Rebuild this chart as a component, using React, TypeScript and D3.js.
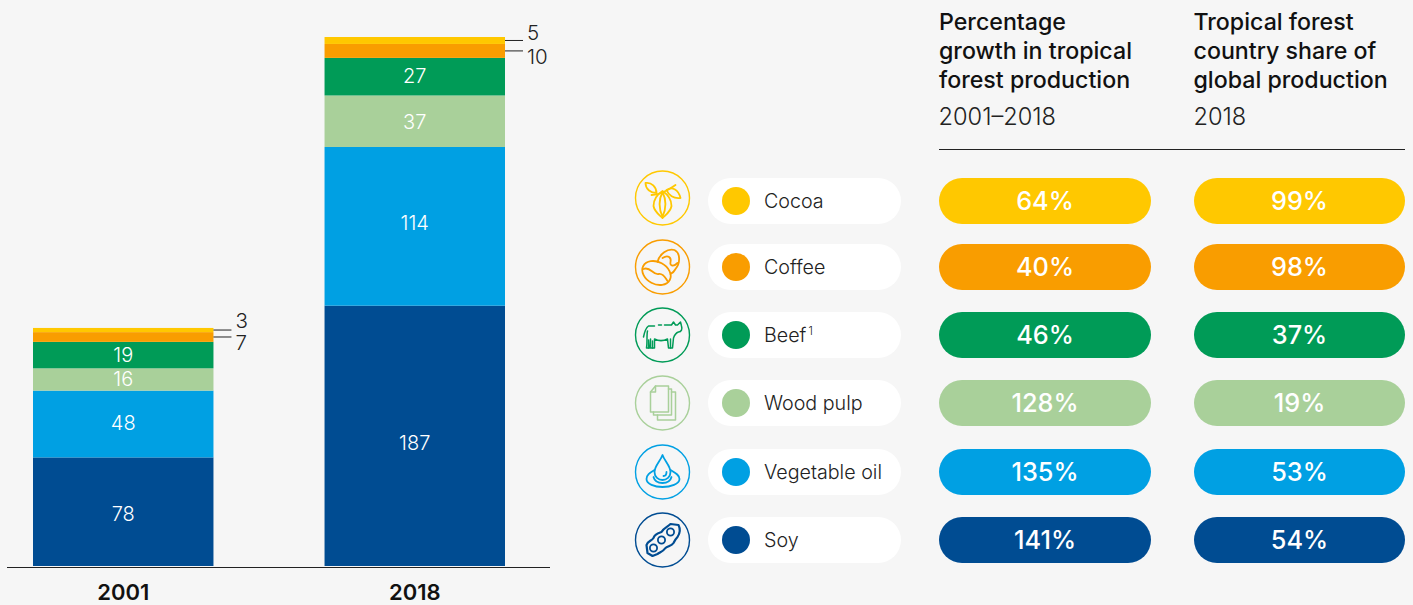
import React from "react";
import * as d3 from "d3";

const years = ["2001", "2018"];
const categories = ["Soy", "Vegetable oil", "Wood pulp", "Beef", "Coffee", "Cocoa"];
const values2001 = [78, 48, 16, 19, 7, 3];
const values2018 = [187, 114, 37, 27, 10, 5];
const colors = ["#004c92", "#00a0e3", "#a9d09a", "#009b57", "#f99d00", "#ffc800"];
const growth = ["141%", "135%", "128%", "46%", "40%", "64%"];
const share = ["54%", "53%", "19%", "37%", "98%", "99%"];
const rowCenters = [540, 472, 403, 335, 267, 201];
const iconCenters = [540, 472, 403, 335, 267, 198];
const labelShift2001 = [2, -1, 0, 0];
const labelShift2018 = [7, -3, 1, -1];

const FONT = "Inter, 'Liberation Sans', Arial, sans-serif";
const INK = "#222";

const y = d3.scaleLinear().domain([0, 380]).range([566, 37]);
const x = d3.scaleBand().domain(years).range([33, 505]).paddingInner(0.381).paddingOuter(0);

const rows = years.map((yr, i) => {
  const o: any = { year: yr };
  const v = i === 0 ? values2001 : values2018;
  categories.forEach((c, k) => (o[c] = v[k]));
  return o;
});
const stacked = d3.stack().keys(categories)(rows);

function Icon({ name, color }: { name: string; color: string }) {
  const p = { fill: "none", stroke: color, strokeWidth: 1.8, strokeLinejoin: "round" as const, strokeLinecap: "round" as const };
  switch (name) {
    case "Cocoa":
      return (
        <g {...p}>
          <path d="M-11,-3 C-4,-3 6,-8 13,-13" />
          <path d="M-6,-5 C-12,-5 -17,-9 -17,-15 C-11,-16 -6,-11 -6,-5Z" />
          <path d="M4,-8 C10,-12 16,-8 18,0 C11,1 6,-3 4,-8Z" />
          <path d="M0,-7 C-6,-3 -9,2 -9,8 C-8,14 -3,17 0,20 C3,17 8,14 9,8 C9,2 6,-3 0,-7Z" />
          <path d="M0,-6 C-4,2 -4,10 0,19 M0,-6 C4,2 4,10 0,19" />
        </g>
      );
    case "Coffee":
      return (
        <g {...p}>
          <ellipse cx={-6} cy={6} rx={15} ry={11} transform="rotate(28 -6 6)" />
          <path d="M-19,2 C-12,-1 -10,8 -4,7 C1,6 3,11 5,14" />
          <path d="M-5,-5 C-3,-13 5,-19 12,-17 C18,-14 18,-4 13,2 C12,4 10,6 8,7" />
          <path d="M0,-9 C6,-13 9,-9 8,-5 C7,-1 11,0 15,-4" />
        </g>
      );
    case "Beef":
      return (
        <g {...p} strokeWidth={1.5}>
          <path d="M-19,2 C-18,-3 -17,-7 -14,-9 H-8 M-4,-10 H-1 M2,-10 H9 L11,-13 L13,-10 H15 L18,-13 L19,-9 C20,-6 19,-3 16,-3 C13,-2 12,0 11,3 L10,13 H6 L5,4 C1,6 -4,6 -8,4 L-8,13 H-12 L-12,4 L-13,13 H-16 C-15,7 -16,0 -15,-4" />
          <path d="M-10,6 V13 M8,4 V13 M-14,5 V13" />
        </g>
      );
    case "Wood pulp":
      return (
        <g {...p} strokeWidth={1.5}>
          <path d="M-12,-11 L-7,-17 H6 V9 H-12Z" />
          <path d="M-12,-11 H-7 V-17" />
          <path d="M6,-14 H9 V12 H-9 V9" />
          <path d="M9,-11 H13 V17 H-5 V12" />
        </g>
      );
    case "Vegetable oil":
      return (
        <g {...p}>
          <path d="M0,-17 C-2,-11 -8,-6 -8,0 C-8,5 -4,8 0,8 C4,8 8,5 8,0 C8,-6 2,-11 0,-17Z" />
          <path d="M4,0 C4,2 3,4 1,4" />
          <path d="M-8,-2 C-13,1 -16,3 -16,7 C-16,12 -8,15 0,15 C8,15 17,12 17,7 C17,3 13,1 8,-2" />
          <path d="M-9,5 C-8,9 -4,11 0,11 C4,11 8,9 9,5" />
        </g>
      );
    default:
      return (
        <g {...p} strokeWidth={2.2}>
          <path d="M-16,5 C-15,1 -11,1 -9,-2 C-8,-6 -4,-7 -1,-8 C1,-12 5,-13 8,-16 L16,-15 C18,-11 17,-6 15,-3 C13,-1 12,1 11,3 C9,6 5,6 3,8 C1,11 -2,12 -5,14 L-10,16 L-15,13 Z" />
          <circle cx={-9} cy={8} r={3.6} strokeWidth={1.8} />
          <circle cx={-1} cy={0} r={3.6} strokeWidth={1.8} />
          <circle cx={8} cy={-8} r={3.6} strokeWidth={1.8} />
        </g>
      );
  }
}

function Pill({ x0, x1, cy, fill, text }: { x0: number; x1: number; cy: number; fill: string; text: string }) {
  return (
    <g>
      <rect x={x0} y={cy - 23} width={x1 - x0} height={46} rx={23} fill={fill} />
      <text x={(x0 + x1) / 2} y={cy + 9} textAnchor="middle" fill="#fff" fontSize={25.3} fontWeight={450}>{text}</text>
    </g>
  );
}

const col1 = ["Percentage", "growth in tropical", "forest production"];
const col2 = ["Tropical forest", "country share of", "global production"];
const headerYs = [30, 59, 88];

export default function App() {
  return (
    <svg width={1413} height={605} style={{ position: "absolute", left: 0, top: 0, background: "#f6f6f6", fontFamily: FONT }}>
      {stacked.map((s, k) => (
        <g key={s.key}>
          {s.map((d: any, i: number) => {
            const bx = x(years[i])!;
            const top = y(d[1]);
            const bot = y(d[0]);
            const v = d[1] - d[0];
            const shift = (i === 0 ? labelShift2001 : labelShift2018)[k] ?? 0;
            return (
              <g key={i}>
                <rect x={bx} y={top} width={x.bandwidth()} height={bot - top} fill={colors[k]} />
                {k < 4 && (
                  <text x={bx + x.bandwidth() / 2} y={(top + bot) / 2 + 7 + shift} textAnchor="middle" fill="#fff" fontSize={20} fontWeight={300}>{v}</text>
                )}
              </g>
            );
          })}
        </g>
      ))}
      {years.map((yr, i) => {
        const v = i === 0 ? values2001 : values2018;
        const right = x(yr)! + x.bandwidth();
        const total = d3.sum(v);
        const cocoaY = y(total - v[5] / 2);
        const coffeeY = y(total - v[5] - v[4] / 2);
        return (
          <g key={yr}>
            <line x1={right} x2={right + 18} y1={cocoaY} y2={cocoaY} stroke={INK} strokeWidth={1} />
            <line x1={right} x2={right + 18} y1={coffeeY} y2={coffeeY} stroke={INK} strokeWidth={1} />
            <text x={right + 22} y={cocoaY + (i === 0 ? -2 : 0)} fill={INK} fontSize={20.5} fontWeight={300}>{v[5]}</text>
            <text x={right + 22} y={coffeeY + 13} fill={INK} fontSize={20.5} fontWeight={300}>{v[4]}</text>
          </g>
        );
      })}
      <line x1={7} x2={550} y1={567.5} y2={567.5} stroke={INK} strokeWidth={1} />
      {years.map((yr) => (
        <text key={yr} x={x(yr)! + x.bandwidth() / 2} y={600} textAnchor="middle" fontWeight={600} fontSize={22} fill="#111">{yr}</text>
      ))}

      {col1.map((t, i) => (
        <text key={t} x={939} y={headerYs[i]} fontSize={23.2} fontWeight={500} fill="#111">{t}</text>
      ))}
      {col2.map((t, i) => (
        <text key={t} x={1193.5} y={headerYs[i]} fontSize={23.2} fontWeight={500} fill="#111">{t}</text>
      ))}
      <text x={938.5} y={125} fontSize={23.6} fontWeight={300} fill={INK}>2001–2018</text>
      <text x={1193.5} y={125} fontSize={23.6} fontWeight={300} fill={INK}>2018</text>
      <line x1={939} x2={1405} y1={149.5} y2={149.5} stroke={INK} strokeWidth={1} />

      {categories.map((c, k) => {
        const cy = rowCenters[k];
        return (
          <g key={c}>
            <g transform={`translate(662.5,${iconCenters[k]})`}>
              <circle r={27} fill="none" stroke={colors[k]} strokeWidth={1.4} />
              <Icon name={c} color={colors[k]} />
            </g>
            <rect x={708} y={cy - 23} width={193} height={46} rx={23} fill="#fff" />
            <circle cx={736} cy={cy} r={14} fill={colors[k]} />
            <text x={764} y={cy + 7} fontSize={19.7} fontWeight={300} fill={INK}>
              {c}
              {c === "Beef" && <tspan dy={-7} fontSize={11}>{"\u20091"}</tspan>}
            </text>
            <Pill x0={939} x1={1151} cy={cy} fill={colors[k]} text={growth[k]} />
            <Pill x0={1194} x1={1405} cy={cy} fill={colors[k]} text={share[k]} />
          </g>
        );
      })}
    </svg>
  );
}
